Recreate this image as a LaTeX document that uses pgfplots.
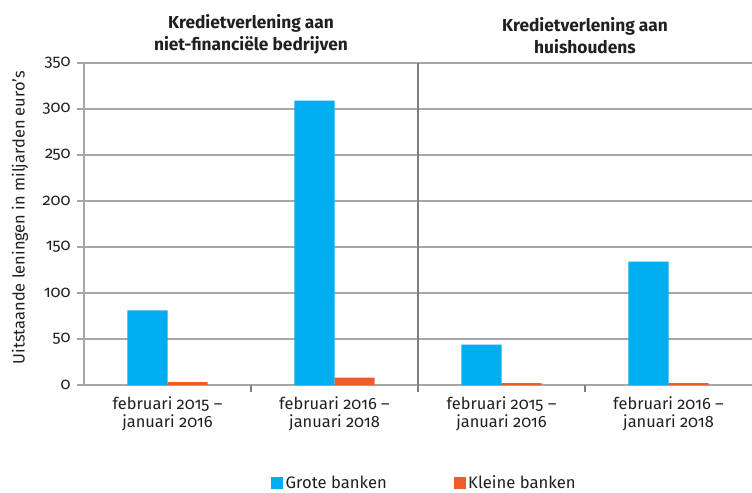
\documentclass[border=0pt]{standalone}
\usepackage{fontspec}
\setmainfont{Fira Sans}[Numbers=OldStyle]
\usepackage{pgfplots}
\pgfplotsset{compat=1.18}
\definecolor{grote}{HTML}{00AEEF}
\definecolor{kleine}{HTML}{F15A29}
\definecolor{gridc}{HTML}{A6A6A6}
\definecolor{sepc}{HTML}{7F7F7F}
\definecolor{txt}{HTML}{231F20}
\begin{document}
\begin{tikzpicture}
\begin{axis}[
  width=501pt, height=241.5pt, scale only axis,
  clip=false,
  xmin=-0.5, xmax=3.5, ymin=0, ymax=350,
  ybar=0pt, bar width=0.24,
  /pgf/number format/assume math mode=true,
  xtick={0,1,2,3},
  xticklabels={{februari 2015 --\\januari 2016},{februari 2016 --\\januari 2018},{februari 2015 --\\januari 2016},{februari 2016 --\\januari 2018}},
  xticklabel style={align=center, font=\fontsize{12.3}{13.5}\selectfont, text=txt},
  xtick style={draw=none},
  extra x ticks={0.5,1.5,2.5},
  extra x tick labels={},
  extra x tick style={xtick style={draw=sepc, line width=0.8pt}, grid=none},
  ytick={0,50,...,350},
  yticklabel style={font=\fontsize{12.3}{13}\selectfont, text=txt, xshift=-1pt},
  ytick style={draw=gridc, line width=0.8pt},
  tick align=outside, major tick length=5.5pt,
  ymajorgrids, grid style={gridc, line width=0.8pt},
  axis x line*=bottom, axis y line*=left,
  axis line style={gridc, line width=0.8pt, -},
  ylabel={Uitstaande leningen in miljarden euro's},
  ylabel style={font=\fontsize{12.3}{13}\selectfont, text=txt, at={(axis description cs:-0.0958,0.52)}, anchor=center},
  legend columns=2,
  legend style={at={(0.51,-0.304)}, anchor=center, draw=none, fill=none,
    font=\fontsize{12.5}{14}\selectfont, text=txt,
    /tikz/every even column/.append style={column sep=48pt}},
  legend image code/.code={\fill[#1] (0pt,-4.5pt) rectangle (9pt,4.5pt);},
]
\addplot[fill=grote, draw=none] coordinates {(0,81) (1,309) (2,44) (3,134)};
\addlegendentry{Grote banken}
\addplot[fill=kleine, draw=none] coordinates {(0,3) (1,8) (2,2) (3,2)};
\addlegendentry{Kleine banken}
\draw[sepc, line width=0.9pt] (axis cs:1.5,0) -- (axis cs:1.5,350);
\node[anchor=south, align=center, font=\bfseries\fontsize{13}{16.5}\selectfont, text=txt, yshift=3pt] at (axis cs:0.5,350) {Kredietverlening aan\\niet-financiële bedrijven};
\node[anchor=south, align=center, font=\bfseries\fontsize{13}{16.5}\selectfont, text=txt, yshift=3pt] at (axis cs:2.5,350) {Kredietverlening aan\\huishoudens};
\coordinate (ll) at (rel axis cs:0,0);
\coordinate (ur) at (rel axis cs:1,1);
\end{axis}
\pgfresetboundingbox
\path (ll) ++(-63pt,-80.25pt) coordinate (bl);
\path (ur) ++(0pt,47.25pt) coordinate (tr);
\path[use as bounding box] (bl) rectangle (tr);
\end{tikzpicture}
\end{document}
